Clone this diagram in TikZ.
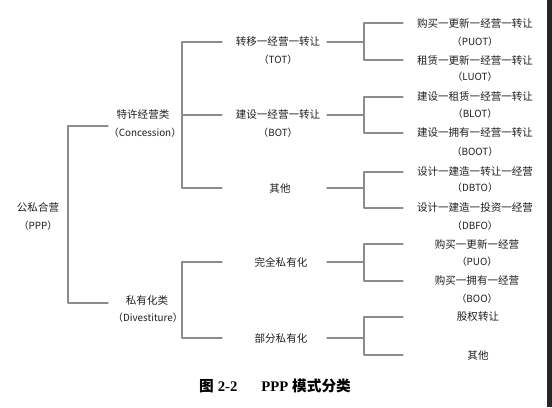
\documentclass[tikz,border=0pt]{standalone}
\usepackage{fontspec}
\setmainfont{Noto Sans CJK SC}
\newfontfamily\latinserif{Liberation Serif}
\begin{document}
\begin{tikzpicture}[x=0.75pt,y=-0.75pt,font=\fontsize{7.9}{9}\selectfont,line join=round,line cap=round,
	item/.style={inner sep=2pt,text=black!88},
	abbr/.style={item,font=\fontsize{7.4}{9}\selectfont},
	branch/.style={draw=black!45,line width=0.8pt}]
	\useasboundingbox (0,0) rectangle (552,407);
	\fill[white] (0,0) rectangle (552,407);
	\fill[black!85] (547,0) rectangle (552,407);
	% level 0 and 1
	\node[item] (ppp) at (38,207) {公私合营};
	\node[abbr] (ppp-en) at (38,226) {（PPP）};
	\node[item] (con) at (143,115) {特许经营类};
	\node[abbr] (con-en) at (145,133) {（Concession）};
	\node[item] (div) at (147,300) {私有化类};
	\node[abbr] (div-en) at (148,318) {（Divestiture）};
	% level 2
	\node[item] (tot) at (278,42) {转移一经营一转让};
	\node[abbr] (tot-en) at (278,60) {（TOT）};
	\node[item] (bot) at (278,115) {建设一经营一转让};
	\node[abbr] (bot-en) at (278,133) {（BOT）};
	\node[item] (oth-a) at (280,188) {其他};
	\node[item] (full) at (281,262) {完全私有化};
	\node[item] (part) at (281,338) {部分私有化};
	% level 3
	\node[item] (puot) at (475,23) {购买一更新一经营一转让};
	\node[abbr] (puot-en) at (475,42) {（PUOT）};
	\node[item] (luot) at (475,60) {租赁一更新一经营一转让};
	\node[abbr] (luot-en) at (475,77) {（LUOT）};
	\node[item] (blot) at (475,97) {建设一租赁一经营一转让};
	\node[abbr] (blot-en) at (475,114) {（BLOT）};
	\node[item] (boot) at (475,133) {建设一拥有一经营一转让};
	\node[abbr] (boot-en) at (475,152) {（BOOT）};
	\node[item] (dbto) at (475,172) {设计一建造一转让一经营};
	\node[abbr] (dbto-en) at (475,188) {（DBTO）};
	\node[item] (dbfo) at (475,208) {设计一建造一投资一经营};
	\node[abbr] (dbfo-en) at (475,226) {（DBFO）};
	\node[item] (puo) at (477,244) {购买一更新一经营};
	\node[abbr] (puo-en) at (477,262) {（PUO）};
	\node[item] (boo) at (477,281) {购买一拥有一经营};
	\node[abbr] (boo-en) at (477,299) {（BOO）};
	\node[item] (equity) at (478,317) {股权转让};
	\node[item] (oth-b) at (478,355) {其他};
	% brackets
	\coordinate (bar0) at (68,214);
	\coordinate (hook-con) at (108,126);
	\coordinate (hook-div) at (108,303);
	\coordinate (bar1) at (182,0);
	\coordinate (tip1) at (222,0);
	\coordinate (stem2) at (327,0);
	\coordinate (bar2) at (364,0);
	\coordinate (tip2) at (403,0);
	\draw[branch] (hook-con) -| (bar0) |- (hook-div);
	\draw[branch] (tot -| tip1) -- (tot -| bar1) -- (oth-a -| bar1) -- (oth-a -| tip1);
	\draw[branch] (bot -| bar1) -- (bot -| tip1);
	\draw[branch] (full -| tip1) -- (full -| bar1) -- (part -| bar1) -- (part -| tip1);
	\foreach \p/\a/\b in {tot/puot/luot,bot/blot/boot,oth-a/dbto/dbfo,full/puo/boo,part/equity/oth-b}{
		\draw[branch] (\p -| stem2) -- (\p -| bar2);
		\draw[branch] (\a -| tip2) -- (\a -| bar2) -- (\b -| bar2) -- (\b -| tip2);
	}
	% caption
	\node[font=\fontsize{11}{13}\selectfont\bfseries] (cap) at (275,386)
		{图\hspace{3pt}{\latinserif\bfseries 2-2}\hspace{18pt}{\latinserif\bfseries PPP}\hspace{3pt}模式分类};
\end{tikzpicture}
\end{document}
